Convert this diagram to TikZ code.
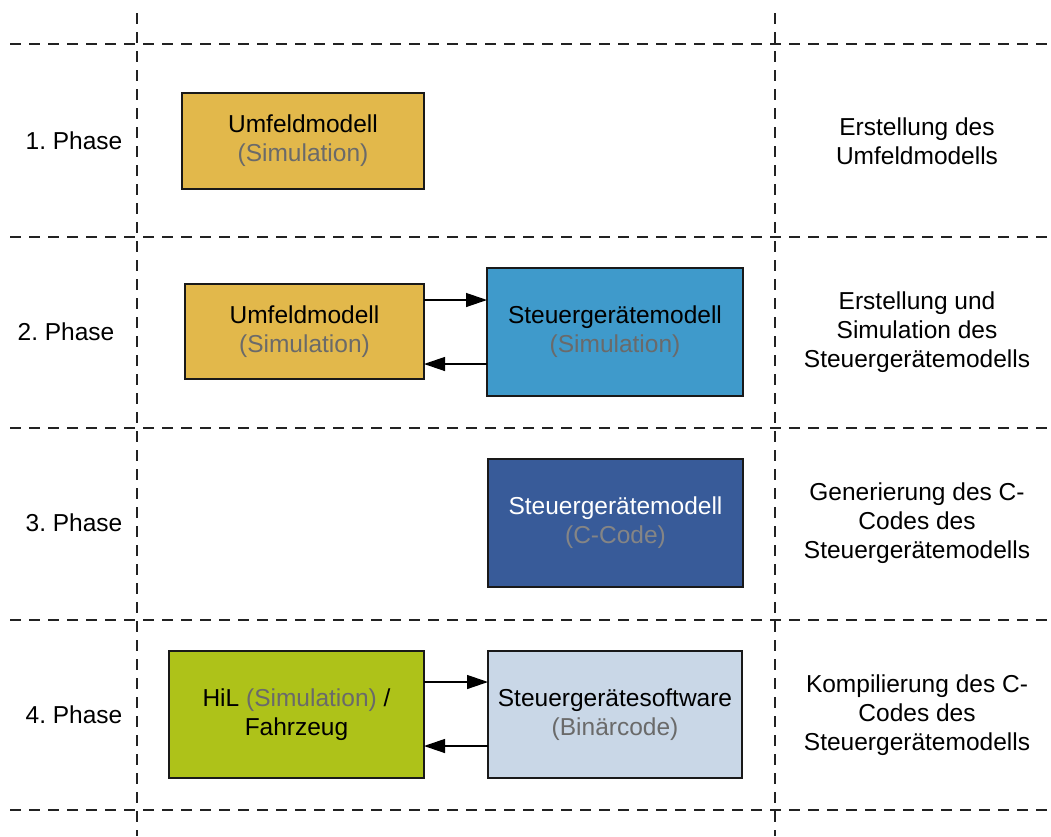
\documentclass[tikz,border=0pt]{standalone}
\usepackage{fontspec}
\setmainfont{Liberation Sans}
\usetikzlibrary{arrows.meta}
\frenchspacing
\definecolor{umfeld}{HTML}{E2B84B}
\definecolor{sgsim}{HTML}{3F9ACB}
\definecolor{sgcode}{HTML}{385B99}
\definecolor{hil}{HTML}{AEC219}
\definecolor{sgsw}{HTML}{C9D7E7}
\definecolor{subtxt}{HTML}{6A6A6A}
\definecolor{subtxtb}{HTML}{858585}
\definecolor{gridline}{HTML}{222222}
\begin{document}
\begin{tikzpicture}[x=1pt,y=-1pt,
  every node/.style={font=\fontsize{24.5}{29}\selectfont, align=center},
  grid/.style={draw=gridline, line width=1.6pt, dash pattern=on 11pt off 8pt},
  box/.style={draw=black!90, line width=1.4pt, inner sep=0pt, outer sep=0pt},
  arr/.style={draw=black, line width=1.3pt, -{Triangle[length=21pt,width=14pt]}}]
\useasboundingbox (0,0) rectangle (1051,836);

% phase separators and column dividers
\foreach \yy in {44,237,428,620,810}
  \draw[grid] (10,\yy) -- (1051,\yy);
\foreach \xx in {137,775}
  \draw[grid] (\xx,13) -- (\xx,836);

% phase labels
\node (ph1) at (74,141) {1. Phase};
\node (ph2) at (66,332) {2. Phase};
\node (ph3) at (74,523) {3. Phase};
\node (ph4) at (74,715) {4. Phase};

% descriptions
\node (d1) at (917,141) {Erstellung des\\Umfeldmodells};
\node (d2) at (917,332) {Erstellung und\\Simulation des\\Steuergerätemodells};
\node (d3) at (917,523) {Generierung des C-\\Codes des\\Steuergerätemodells};
\node (d4) at (917,715) {Kompilierung des C-\\Codes des\\Steuergerätemodells};

% phase 1
\node[box, fill=umfeld, minimum width=242pt, minimum height=96pt] (u1) at (303,141)
  {Umfeldmodell\\\textcolor{subtxt}{(Simulation)}};

% phase 2
\node[box, fill=umfeld, minimum width=239pt, minimum height=95pt] (u2) at (304.5,331.5)
  {Umfeldmodell\\\textcolor{subtxt}{(Simulation)}};
\node[box, fill=sgsim, minimum width=256pt, minimum height=128pt] (s2) at (615,332)
  {Steuergerätemodell\\\textcolor{subtxt}{(Simulation)}};
\draw[arr] ([yshift=31.5pt]u2.east) -- ([yshift=31.5pt]u2.east -| s2.west);
\draw[arr] ([yshift=-32.5pt]u2.east -| s2.west) -- ([yshift=-32.5pt]u2.east);

% phase 3
\node[box, fill=sgcode, text=white, minimum width=255pt, minimum height=128pt] (s3) at (615.5,523)
  {Steuergerätemodell\\\textcolor{subtxtb}{(C-Code)}};

% phase 4
\node[box, fill=hil, minimum width=255pt, minimum height=127pt] (h4) at (296.5,714.5)
  {HiL \textcolor{subtxt}{(Simulation)} /\\Fahrzeug};
\node[box, fill=sgsw, minimum width=254pt, minimum height=127pt] (s4) at (615,714.5)
  {Steuergerätesoftware\\\textcolor{subtxt}{(Binärcode)}};
\draw[arr] ([yshift=32.5pt]h4.east) -- ([yshift=32.5pt]h4.east -| s4.west);
\draw[arr] ([yshift=-31.5pt]h4.east -| s4.west) -- ([yshift=-31.5pt]h4.east);
\end{tikzpicture}
\end{document}
